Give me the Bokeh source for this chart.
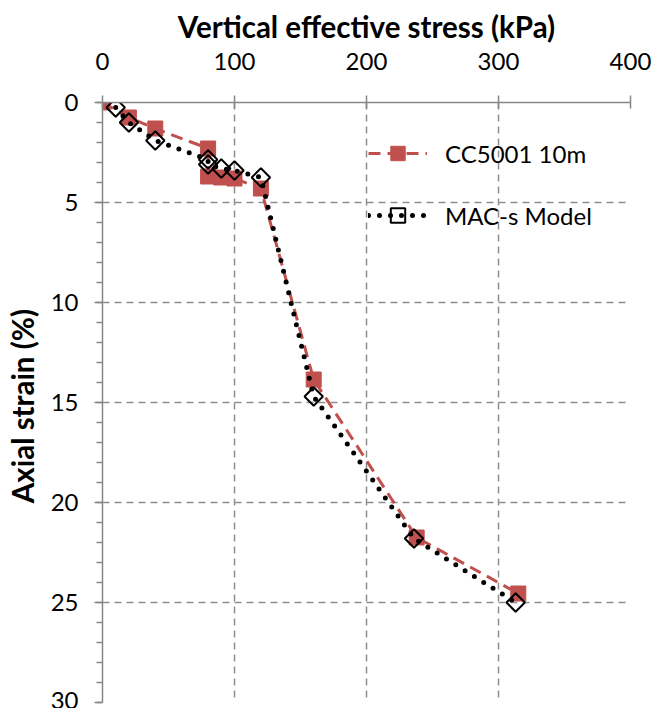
from bokeh.plotting import figure
from bokeh.models import Range1d, FixedTicker, Legend, LegendItem
from bokeh.embed import file_html
from bokeh.resources import INLINE
import math

# ---- data ----
stress_cc = [0, 20, 40, 80, 80, 90, 100, 120, 160, 238, 315]
strain_cc = [0, 0.75, 1.3, 2.3, 3.7, 3.75, 3.8, 4.3, 13.85, 21.75, 24.55]

stress_mac = [10, 20, 40, 80, 80, 90, 100, 120, 160, 236, 313]
strain_mac = [0.25, 1.0, 1.9, 2.85, 3.1, 3.3, 3.4, 3.75, 14.7, 21.8, 25.0]

x_ticks = [0, 100, 200, 300, 400]
y_ticks = [0, 5, 10, 15, 20, 25, 30]
y_minor = list(range(0, 31))

label_cc = "CC5001 10m"
label_mac = "MAC-s Model"
x_title = "Vertical effective stress (kPa)"
y_title = "Axial  strain (%)"

RED = "#C0504D"
GRAY = "#868686"
FONT = "Lato"

p = figure(width=652, height=708, output_backend="svg", toolbar_location=None,
           x_range=Range1d(0, 400), y_range=Range1d(30, 0),
           x_axis_location="above",
           min_border_left=102, min_border_top=102, min_border_right=22, min_border_bottom=6)
p.outline_line_color = None
p.background_fill_color = "white"

# axes
xa = p.xaxis[0]
xa.ticker = FixedTicker(ticks=x_ticks)
xa.major_tick_in = 6
xa.major_tick_out = 7
xa.minor_tick_in = 0
xa.minor_tick_out = 0
xa.axis_line_color = GRAY
xa.axis_line_width = 1.5
xa.major_tick_line_color = GRAY
xa.major_tick_line_width = 1.5
xa.major_label_text_font = FONT
xa.major_label_text_font_size = "24px"
xa.major_label_text_color = "black"
xa.major_label_standoff = 26
xa.axis_label = x_title
xa.axis_label_text_font = FONT
xa.axis_label_text_font_style = "bold"
xa.axis_label_text_font_size = "29.5px"
xa.axis_label_text_color = "black"
xa.axis_label_standoff = 6

ya = p.yaxis[0]
ya.ticker = FixedTicker(ticks=y_ticks, minor_ticks=y_minor)
ya.major_tick_in = 0
ya.major_tick_out = 8
ya.minor_tick_in = 0
ya.minor_tick_out = 6
ya.axis_line_color = GRAY
ya.axis_line_width = 1.5
ya.major_tick_line_color = GRAY
ya.major_tick_line_width = 1.5
ya.minor_tick_line_color = GRAY
ya.minor_tick_line_width = 1.5
ya.major_label_text_font = FONT
ya.major_label_text_font_size = "24px"
ya.major_label_text_color = "black"
ya.major_label_standoff = 16
ya.axis_label = y_title
ya.axis_label_text_font = FONT
ya.axis_label_text_font_style = "bold"
ya.axis_label_text_font_size = "29.5px"
ya.axis_label_text_color = "black"
ya.axis_label_standoff = 8

for g in (p.xgrid[0], p.ygrid[0]):
    g.grid_line_color = "#8f8f8f"
    g.grid_line_width = 1.5
    g.grid_line_dash = "7 5"

# series
l1 = p.line(stress_cc, strain_cc, line_color=RED, line_width=3, line_dash="12 7")
s1 = p.scatter(stress_cc, strain_cc, marker="square", size=15,
               fill_color=RED, line_color=RED, line_width=1)
l2 = p.line(stress_mac, strain_mac, line_color="black", line_width=5,
            line_dash="0 11", line_cap="round")
s2 = p.scatter(stress_mac, strain_mac, marker="square", size=13, angle=math.pi / 4,
               fill_color=None, line_color="black", line_width=2)

legend = Legend(items=[LegendItem(label=label_cc, renderers=[l1, s1]),
                       LegendItem(label=label_mac, renderers=[l2, s2])],
                location=(266, 469), orientation="vertical")
legend.glyph_width = 59
legend.glyph_height = 36
legend.label_height = 36
legend.spacing = 26
legend.padding = 0
legend.margin = 0
legend.label_standoff = 18
legend.label_text_font = FONT
legend.label_text_font_size = "24px"
legend.label_text_color = "black"
legend.border_line_color = None
legend.background_fill_alpha = 0
p.add_layout(legend, "center")

open("out.html", "w").write(file_html(p, INLINE))
